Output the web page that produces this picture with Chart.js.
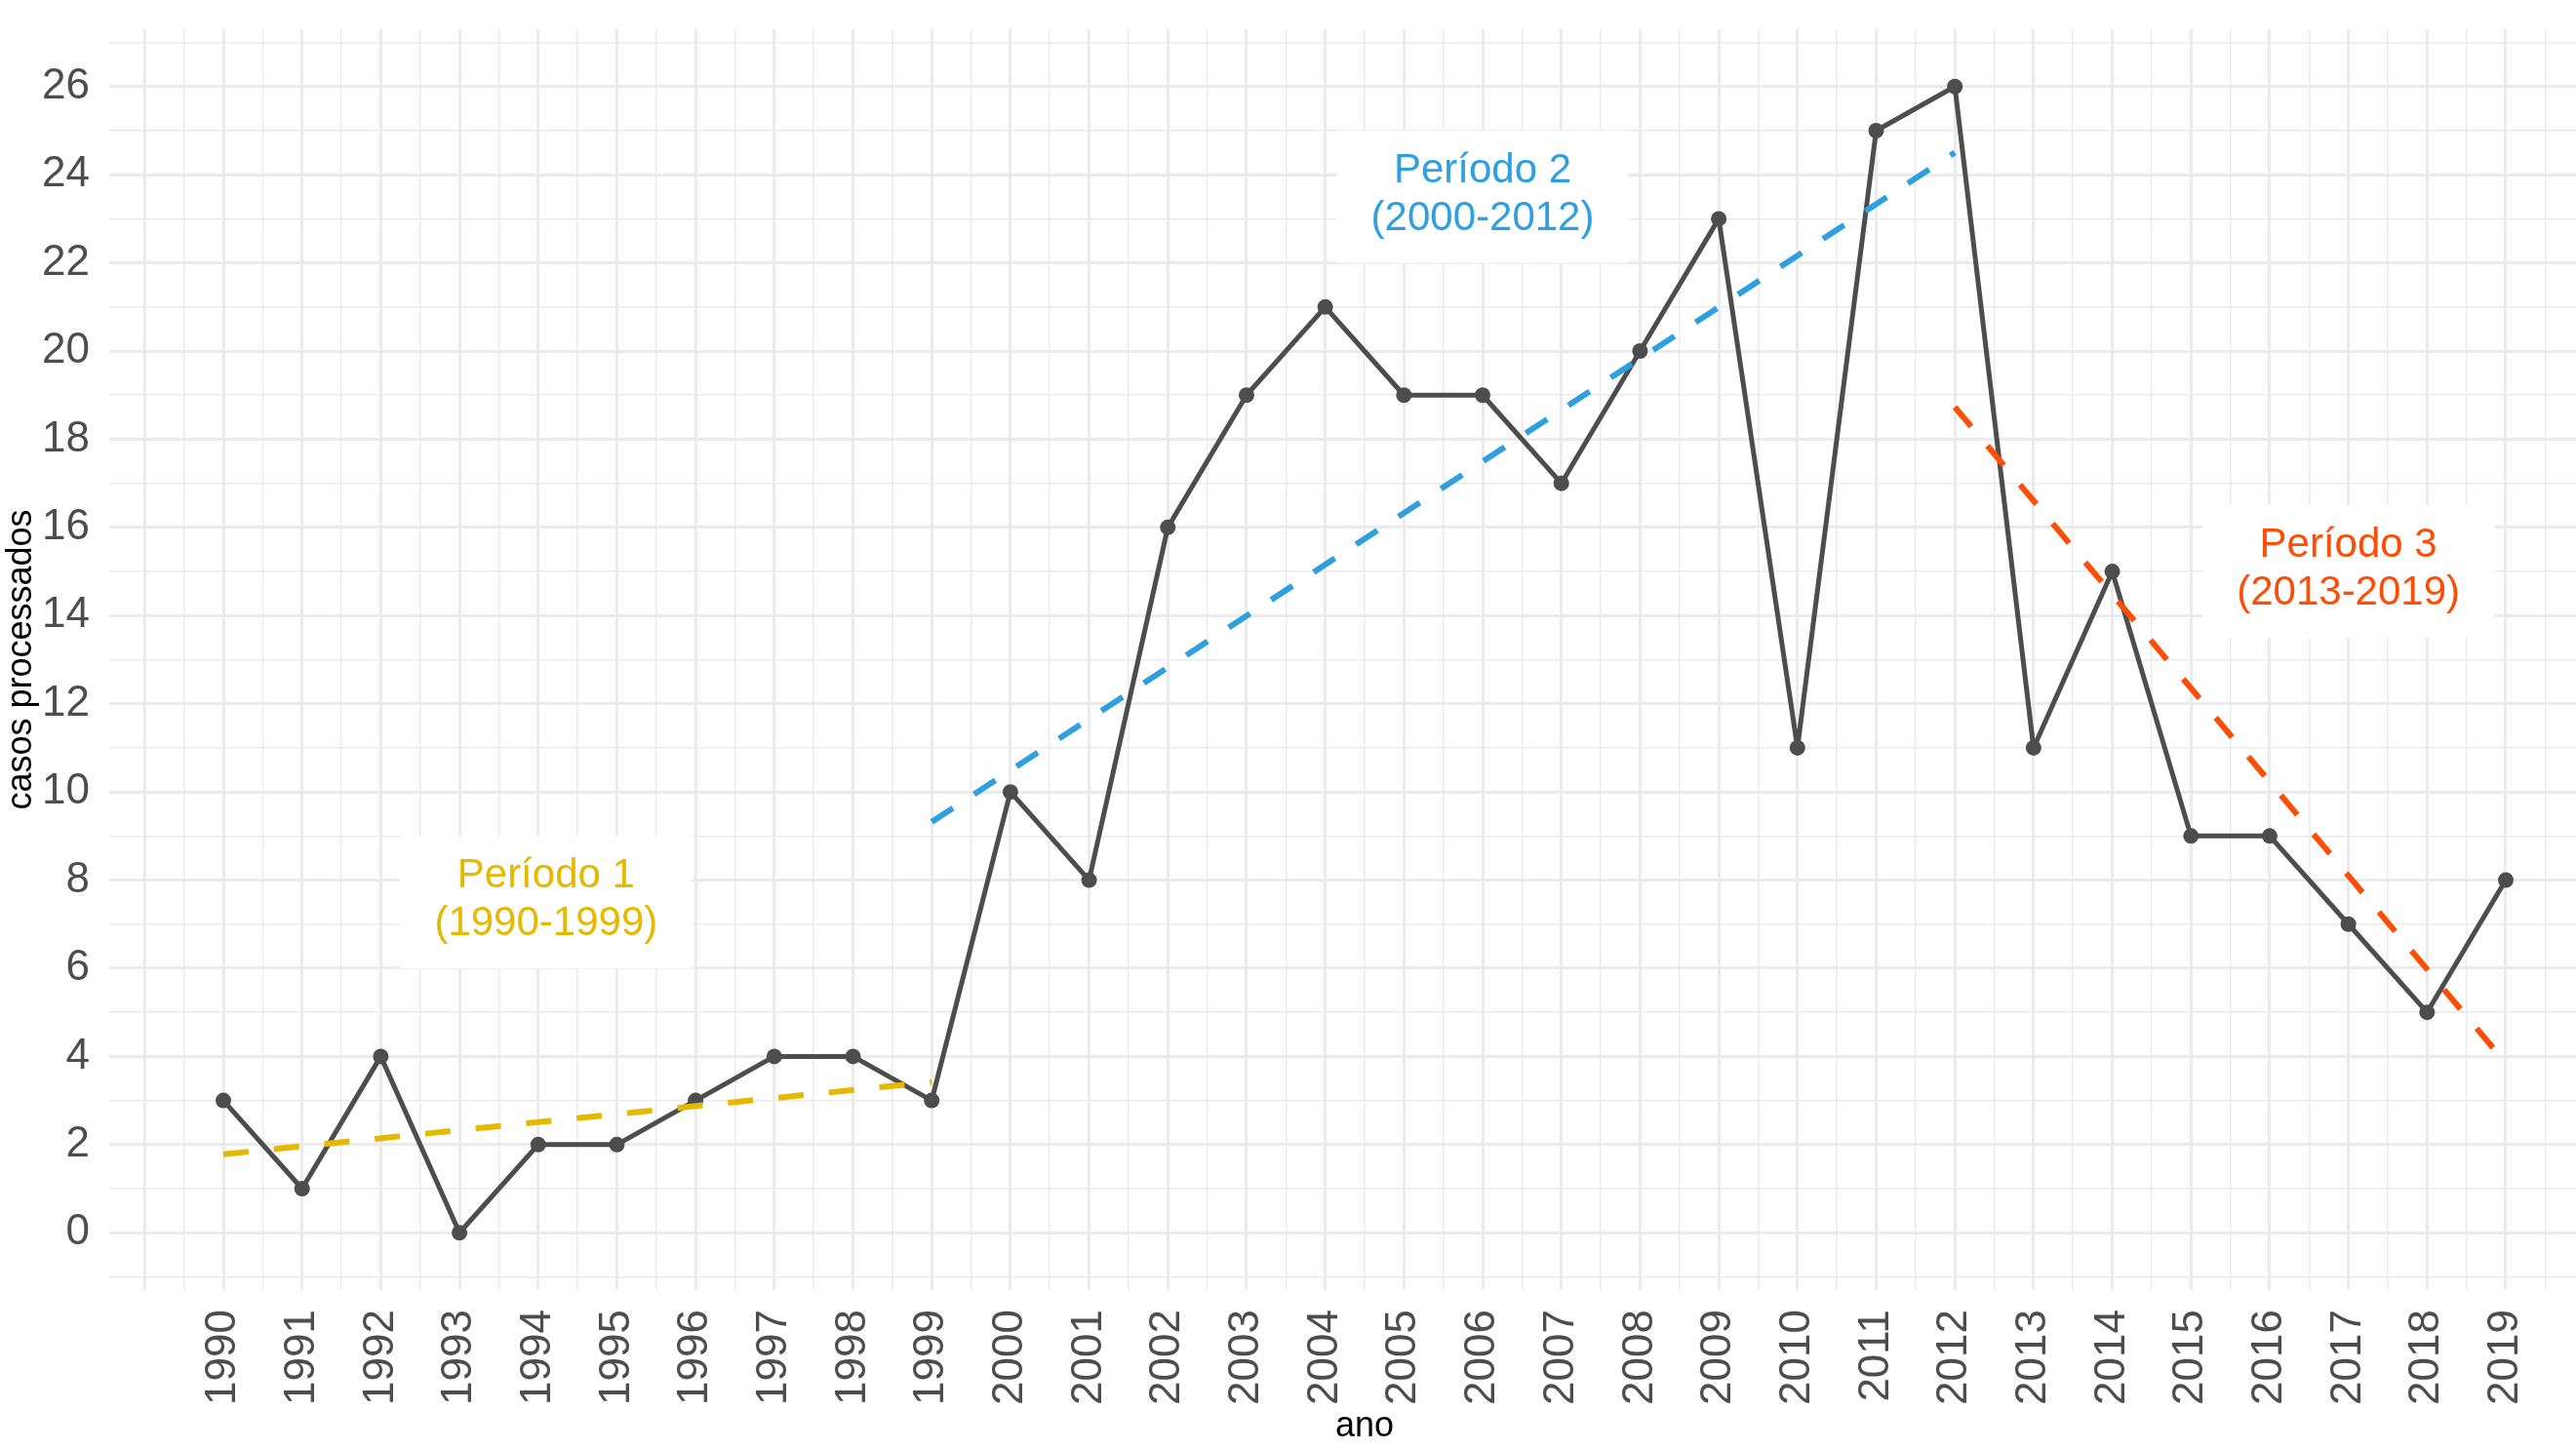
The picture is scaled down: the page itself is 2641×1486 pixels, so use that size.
<!DOCTYPE html>
<html>
<head>
<meta charset="utf-8">
<script src="https://cdn.jsdelivr.net/npm/chart.js@4.4.1/dist/chart.umd.min.js"></script>
<style>
  html, body { margin: 0; padding: 0; background: #fff; overflow: hidden; }
  canvas { display: block; }
</style>
</head>
<body>
<!-- panel runs past the right edge of the window, as in the reference -->
<canvas id="chart" width="2694" height="1486"></canvas>
<script>
// data
const years = [1990, 1991, 1992, 1993, 1994, 1995, 1996, 1997, 1998, 1999,
  2000, 2001, 2002, 2003, 2004, 2005, 2006, 2007, 2008, 2009,
  2010, 2011, 2012, 2013, 2014, 2015, 2016, 2017, 2018, 2019];
const cases = [3, 1, 4, 0, 2, 2, 3, 4, 4, 3,
  10, 8, 16, 19, 21, 19, 19, 17, 20, 23,
  11, 25, 26, 11, 15, 9, 9, 7, 5, 8];

// trend lines (start / end)
const period1X = [1990, 1999];
const period1Y = [1.78, 3.42];
const period2X = [1999, 2012];
const period2Y = [9.32, 24.5];
const period3X = [2012, 2019];
const period3Y = [18.73, 3.85];

// annotation labels
const labelText = [['Período 1', '(1990-1999)'], ['Período 2', '(2000-2012)'], ['Período 3', '(2013-2019)']];
const labelX = [1994.1, 2006, 2017];
const labelY = [7.5, 23.5, 15];

const yTickLabels = [0, 2, 4, 6, 8, 10, 12, 14, 16, 18, 20, 22, 24, 26];

const periodColors = ['#E7B800', '#2E9FDF', '#FC4E07'];
const ink = '#4D4D4D';
const grid = '#EBEBEB';
const fontFamily = '"Liberation Sans", Arial, Helvetica, sans-serif';

// gridline positions: every half year / every unit
const xGrid = [];
for (let v = 1989; v <= 2020; v += 0.5) xGrid.push(v);
const yGrid = [];
for (let v = -1; v <= 27; v += 1) yGrid.push(v);

const toPoints = (xs, ys) => xs.map((x, i) => ({ x, y: ys[i] }));

function trend(xs, ys, color) {
  return {
    data: toPoints(xs, ys),
    borderColor: color,
    borderWidth: 6,
    borderDash: [26, 26],
    borderCapStyle: 'butt',
    pointRadius: 0,
    fill: false
  };
}

const labelPlugin = {
  id: 'periodLabels',
  afterDatasetsDraw(chart) {
    const { ctx, scales: { x, y } } = chart;
    ctx.save();
    ctx.font = '42px ' + fontFamily;
    ctx.textAlign = 'center';
    ctx.textBaseline = 'alphabetic';
    labelText.forEach((lines, i) => {
      const cx = x.getPixelForValue(labelX[i]);
      const cy = y.getPixelForValue(labelY[i]);
      const w = Math.max(...lines.map(l => ctx.measureText(l).width)) + 70;
      const h = 136;
      ctx.fillStyle = '#fff';
      ctx.fillRect(cx - w / 2, cy - h / 2, w, h);
      ctx.fillStyle = periodColors[i];
      ctx.fillText(lines[0], cx, cy - 15);
      ctx.fillText(lines[1], cx, cy + 34);
    });
    ctx.restore();
  }
};

new Chart(document.getElementById('chart').getContext('2d'), {
  type: 'line',
  data: {
    datasets: [
      trend(period1X, period1Y, periodColors[0]),
      trend(period2X, period2Y, periodColors[1]),
      trend(period3X, period3Y, periodColors[2]),
      {
        data: toPoints(years, cases),
        borderColor: ink,
        borderWidth: 5,
        borderJoinStyle: 'round',
        pointRadius: 8,
        pointBorderWidth: 0,
        pointBackgroundColor: ink,
        tension: 0,
        fill: false
      }
    ]
  },
  options: {
    responsive: false,
    devicePixelRatio: 1,
    animation: false,
    layout: { padding: { top: 30, right: 0, left: 0, bottom: 0 } },
    plugins: { legend: { display: false }, tooltip: { enabled: false } },
    scales: {
      x: {
        type: 'linear',
        min: 1988.55,
        max: 2020.45,
        afterBuildTicks: s => { s.ticks = xGrid.map(v => ({ value: v })); },
        afterFit: s => { s.height = 163; s.paddingLeft = 0; s.paddingRight = 0; },
        border: { display: false },
        grid: {
          color: grid,
          drawTicks: false,
          lineWidth: c => Number.isInteger(c.tick.value) ? 3 : 1.5
        },
        ticks: {
          autoSkip: false,
          minRotation: 90,
          maxRotation: 90,
          padding: 20,
          color: ink,
          font: { family: fontFamily, size: 44 },
          callback: v => years.includes(v) ? String(v) : ''
        },
        title: {
          display: true,
          text: 'ano',
          color: '#000',
          font: { family: fontFamily, size: 36 },
          padding: { top: 1, bottom: 1 }
        }
      },
      y: {
        type: 'linear',
        min: -1.3,
        max: 27.3,
        afterBuildTicks: s => { s.ticks = yGrid.map(v => ({ value: v })); },
        afterFit: s => { s.width = 112; s.paddingTop = 0; s.paddingBottom = 0; },
        border: { display: false },
        grid: {
          color: grid,
          drawTicks: false,
          lineWidth: c => (c.tick.value % 2 === 0) ? 3 : 1.5
        },
        ticks: {
          autoSkip: false,
          padding: 20,
          color: ink,
          font: { family: fontFamily, size: 44 },
          callback: v => yTickLabels.includes(v) ? String(v) : ''
        },
        title: {
          display: true,
          text: 'casos processados',
          color: '#000',
          font: { family: fontFamily, size: 36 },
          padding: { top: 0, bottom: 0 }
        }
      }
    }
  },
  plugins: [labelPlugin]
});
</script>
</body>
</html>
